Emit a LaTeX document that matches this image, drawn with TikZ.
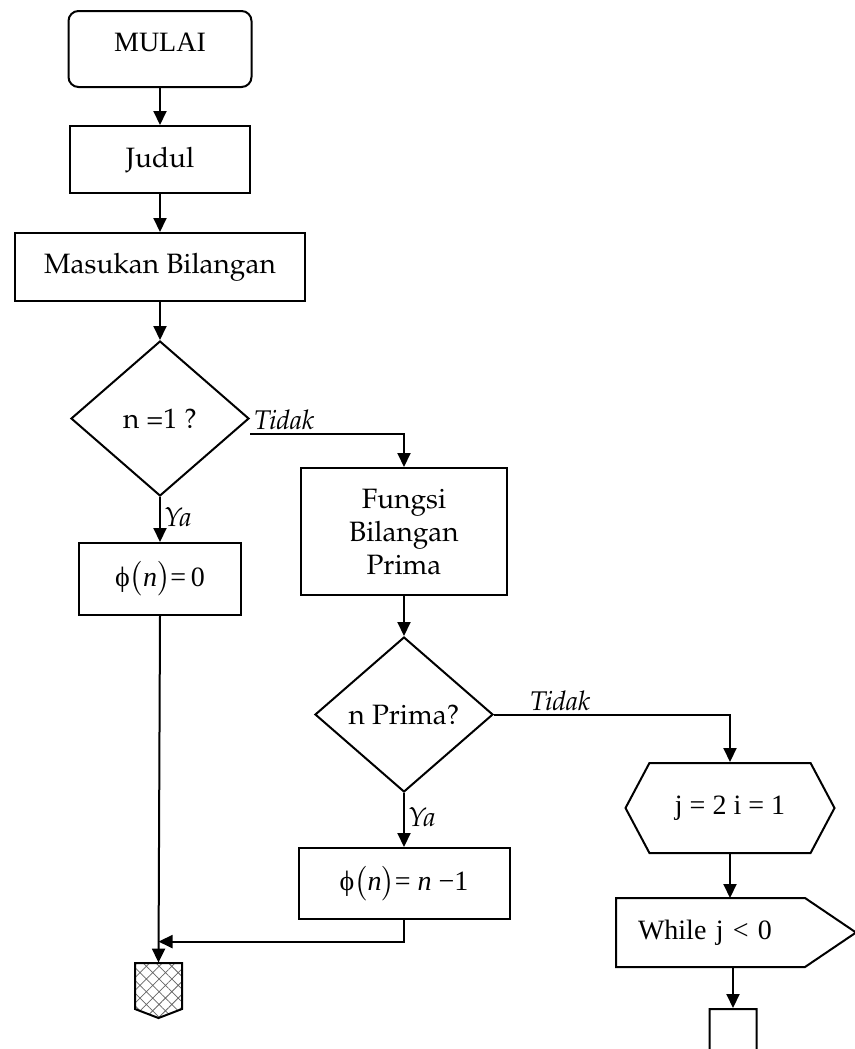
\documentclass[tikz,border=0pt]{standalone}
\usepackage[T1]{fontenc}
\usepackage{amsmath}
\usepackage{fontspec}
\setmainfont{Liberation Serif}
\newcommand\tnr{\normalfont}
\newcommand\pal{\fontencoding{T1}\fontfamily{ppl}\selectfont}
\usetikzlibrary{positioning,arrows.meta,shapes.geometric,shapes.symbols,patterns.meta}

\begin{document}
\begin{tikzpicture}[x=0.5pt, y=-0.5pt, line width=1pt,
		font=\fontsize{14}{16.5}\selectfont\pal,
		>={Triangle[length=7pt,width=6.5pt]},
		proses/.style={draw, inner sep=2pt, align=center},
		mulai/.style={draw, rounded corners=5pt, minimum width=91.5pt, minimum height=38pt, text height=9.5pt, text depth=7pt},
		keputusan/.style={draw, diamond, aspect=1.15, minimum width=89pt, minimum height=77.5pt, inner sep=0pt},
		persiapan/.style={draw, signal, signal to=east and west, signal pointer angle=124, minimum width=104.5pt, minimum height=45pt, inner sep=0pt},
		ulang/.style={minimum width=119pt, minimum height=33.5pt, inner xsep=10.5pt, text width=98pt, align=left},
		konektor/.style={draw, signal, signal to=south, signal pointer angle=138, minimum width=23.5pt, minimum height=23pt, inner sep=0pt},
		ya/.style={font=\fontsize{13.5}{15}\selectfont\pal\itshape, inner sep=1.5pt}]
		\useasboundingbox (0,0) rectangle (855,1049);
		% kolom kiri
		\node[mulai] (mulai) at (160,49) {\tnr MULAI};
		\node[proses, minimum width=90pt, minimum height=33.5pt, below=18.5pt of mulai] (judul) {Judul};
		\node[proses, minimum width=145pt, minimum height=34pt, below=19pt of judul] (masukan) {Masukan Bilangan};
		\node[keputusan, below=19pt of masukan] (cek1) {n =1 ?};
		\node[proses, minimum width=81pt, minimum height=36pt, below=22.5pt of cek1] (phi0) {\tnr ϕ$\bigl($\textit{n}$\bigr)$=\,0};
		\node[konektor, pattern={Hatch[angle=45,distance=4.5pt,line width=0.4pt]}, pattern color=black!60] (keluar) at (158.5,986) {};
		\coordinate[above=10.5pt of keluar.north] (gabung);
		% kolom tengah
		\node[proses, minimum width=103pt, minimum height=63.5pt] (fungsi) at (404,531.5) {Fungsi\\Bilangan\\Prima};
		\node[keputusan, below=20pt of fungsi] (cek2) {n Prima?};
		\node[proses, minimum width=105.5pt, minimum height=35.5pt, below=27pt of cek2] (phi1) {\tnr ϕ$\bigl($\textit{n}$\bigr)$= \textit{n} −1};
		% kolom kanan
		\node[persiapan] (init) at (730,808) {\tnr j = 2 i = 1};
		\node[ulang, below=22pt of init, xshift=3pt] (ulang) {\tnr While j < 0};
		\draw (ulang.north west) -- ([xshift=-25.5pt]ulang.north east) -- (ulang.east)
			-- ([xshift=-25.5pt]ulang.south east) -- (ulang.south west) -- cycle;
		\node[konektor] (lanjut) at (733,1032) {};
		% garis
		\draw[->] (mulai.south) -- (judul.north);
		\draw[->] (judul.south) -- (masukan.north);
		\draw[->] (masukan.south) -- (cek1.north);
		\draw[->] (cek1.south) -- node[pos=0.45, right, ya] {Ya} (phi0.north);
		\draw[->] ([yshift=-7.5pt]cek1.east) node[above right, ya] {Tidak} -| (fungsi.north);
		\draw[->] (phi0.south) -- (keluar.north);
		\draw[->] (fungsi.south) -- (cek2.north);
		\draw[->] (cek2.south) -- node[pos=0.45, right, ya] {Ya} (phi1.north);
		\draw[->] (phi1.south) |- (gabung);
		\draw[->] (cek2.east) -| node[pos=0.14, above, ya] {Tidak} (init.north);
		\draw[->] (init.south) -- (init.south |- ulang.north);
		\draw[->] (ulang.south -| lanjut.north) -- (lanjut.north);
	\end{tikzpicture}
\end{document}
